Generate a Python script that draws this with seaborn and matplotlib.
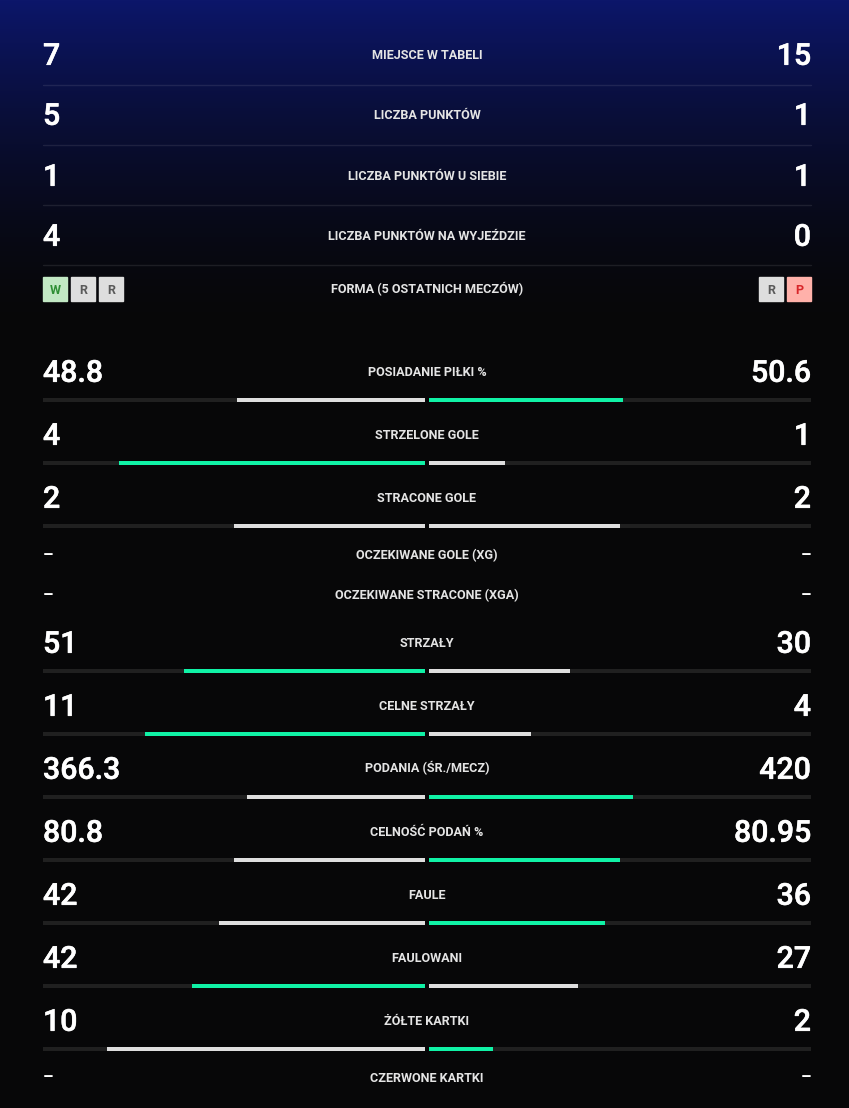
import numpy as np
import pandas as pd
import seaborn as sns
import matplotlib.pyplot as plt
import matplotlib.patheffects as pe
from matplotlib.patches import Rectangle
from matplotlib import font_manager

# === DANE ===
top_labels = ["MIEJSCE W TABELI", "LICZBA PUNKTÓW", "LICZBA PUNKTÓW U SIEBIE",
              "LICZBA PUNKTÓW NA WYJEŹDZIE"]
top_home = [7, 5, 1, 4]
top_away = [15, 1, 1, 0]

form_label = "FORMA (5 OSTATNICH MECZÓW)"
form_home = ["W", "R", "R"]
form_away = ["R", "P"]

stat_labels = ["POSIADANIE PIŁKI %", "STRZELONE GOLE", "STRACONE GOLE",
               "OCZEKIWANE GOLE (XG)", "OCZEKIWANE STRACONE (XGA)", "STRZAŁY",
               "CELNE STRZAŁY", "PODANIA (ŚR./MECZ)", "CELNOŚĆ PODAŃ %", "FAULE",
               "FAULOWANI", "ŻÓŁTE KARTKI", "CZERWONE KARTKI"]
stat_home = [48.8, 4, 2, np.nan, np.nan, 51, 11, 366.3, 80.8, 42, 42, 10, np.nan]
stat_away = [50.6, 1, 2, np.nan, np.nan, 30, 4, 420, 80.95, 36, 27, 2, np.nan]
lower_better = [False, False, True, False, True, False, False, False, False,
                True, False, True, True]

# === UKŁAD (piksele) ===
W, H = 849, 1108
X_L, X_R, X_C = 43, 811, 427
top_y = [54, 114, 175, 235]
sep_y = [85, 145, 205, 265]
form_y = 289
stat_y = [371, 434, 497, 555, 595, 642, 705, 768, 831, 894, 957, 1020, 1077]
BAR_OFF, BAR_H = 29, 4

GREEN = "#10f2a6"
GREY = "#dedede"
TRACK = "#202020"
BG = "#070707"
form_colors = {"W": ("#c2e8c4", "#2f8f35"), "R": ("#dedede", "#5a5a5a"),
               "P": ("#ffb1aa", "#d8262a")}

sns.set_style("dark")
names = {f.name for f in font_manager.fontManager.ttflist}
FONT = "Roboto" if "Roboto" in names else "DejaVu Sans"
plt.rcParams["font.family"] = [FONT, "DejaVu Sans"]

NUM_SIZE = 21.8
LAB_SIZE = 9.1
thick = [pe.withStroke(linewidth=0.4, foreground="white")]

fig = plt.figure(figsize=(W / 100, H / 100), dpi=100)
fig.patch.set_facecolor(BG)

# tło z gradientem
ax = fig.add_axes([0, 0, 1, 1])
ax.set_xlim(0, W)
ax.set_ylim(H, 0)
ax.axis("off")
top_c = np.array([12, 22, 106]) / 255
bot_c = np.array([7, 7, 8]) / 255
yy = np.arange(H)
t = np.clip(1 - yy / 330, 0, 1) ** 1.6
grad = bot_c[None, :] + (top_c - bot_c)[None, :] * t[:, None]
ax.imshow(grad[:, None, :], extent=[0, W, H, 0], aspect="auto", zorder=0)


def num(x, y, s, ha):
    ax.text(x, y + 10.8, s, ha=ha, va="baseline", fontsize=NUM_SIZE,
            fontweight="medium", color="white", zorder=3, path_effects=thick)


def lab(y, s):
    ax.text(X_C, y + 4.6, s, ha="center", va="baseline", fontsize=LAB_SIZE,
            fontweight="semibold", color="#e4e4e4", zorder=3)


def dash(x, y, ha):
    ax.text(x, y + 5, "–", ha=ha, va="baseline", fontsize=12,
            fontweight="bold", color="white", zorder=3)


# górna tabela
for y, s, h, a in zip(top_y, top_labels, top_home, top_away):
    num(X_L, y, str(h), "left")
    num(X_R, y, str(a), "right")
    lab(y, s)
for y in sep_y:
    ax.plot([X_L, X_R], [y, y], color="white", alpha=0.09, lw=1, zorder=2)

# forma
lab(form_y, form_label)
BOX, GAP = 24, 4
for i, r in enumerate(form_home):
    x0 = X_L + i * (BOX + GAP)
    fc, tc = form_colors[r]
    ax.add_patch(Rectangle((x0, form_y - BOX / 2), BOX, BOX, color=fc, zorder=3))
    ax.text(x0 + BOX / 2, form_y + 4.6, r, ha="center", va="baseline",
            fontsize=LAB_SIZE, fontweight="semibold", color=tc, zorder=4)
for i, r in enumerate(form_away[::-1]):
    x0 = X_R - BOX - i * (BOX + GAP)
    fc, tc = form_colors[r]
    ax.add_patch(Rectangle((x0, form_y - BOX / 2), BOX, BOX, color=fc, zorder=3))
    ax.text(x0 + BOX / 2, form_y + 4.6, r, ha="center", va="baseline",
            fontsize=LAB_SIZE, fontweight="semibold", color=tc, zorder=4)

# statystyki - teksty
for y, s, h, a in zip(stat_y, stat_labels, stat_home, stat_away):
    lab(y, s)
    if np.isnan(h):
        dash(X_L, y, "left")
        dash(X_R, y, "right")
    else:
        num(X_L, y, f"{h:g}", "left")
        num(X_R, y, f"{a:g}", "right")

# statystyki - paski
df = pd.DataFrame({"home": stat_home, "away": stat_away,
                   "lower": lower_better, "y": stat_y}).dropna()
df["ybar"] = df["y"] + BAR_OFF
tot = df["home"] + df["away"]
df["f_home"] = df["home"] / tot
df["f_away"] = df["away"] / tot
df["track"] = 1.0


def pick(r, side):
    h, a = r["home"], r["away"]
    if h == a:
        return GREY
    home_wins = (h < a) if r["lower"] else (h > a)
    return GREEN if home_wins == (side == "home") else GREY


df["c_home"] = df.apply(pick, axis=1, side="home")
df["c_away"] = df.apply(pick, axis=1, side="away")

bw = BAR_H / np.diff(np.sort(df["ybar"].unique())).min()
pal = {GREEN: GREEN, GREY: GREY}

for side, x0, x1 in [("home", X_L, 425), ("away", 429, X_R)]:
    bax = fig.add_axes([x0 / W, 0, (x1 - x0) / W, 1])
    bax.patch.set_alpha(0)
    sns.barplot(data=df, x="track", y="ybar", orient="y", native_scale=True,
                color=TRACK, saturation=1, width=bw, linewidth=0,
                errorbar=None, ax=bax)
    sns.barplot(data=df, x=f"f_{side}", y="ybar", hue=f"c_{side}",
                palette=pal, orient="y", native_scale=True, dodge=False,
                saturation=1, width=bw, linewidth=0, errorbar=None,
                legend=False, ax=bax)
    bax.set_ylim(H, 0)
    if side == "home":
        bax.set_xlim(1, 0)
    else:
        bax.set_xlim(0, 1)
    bax.axis("off")

fig.savefig("out.png", dpi=100, facecolor=BG)
